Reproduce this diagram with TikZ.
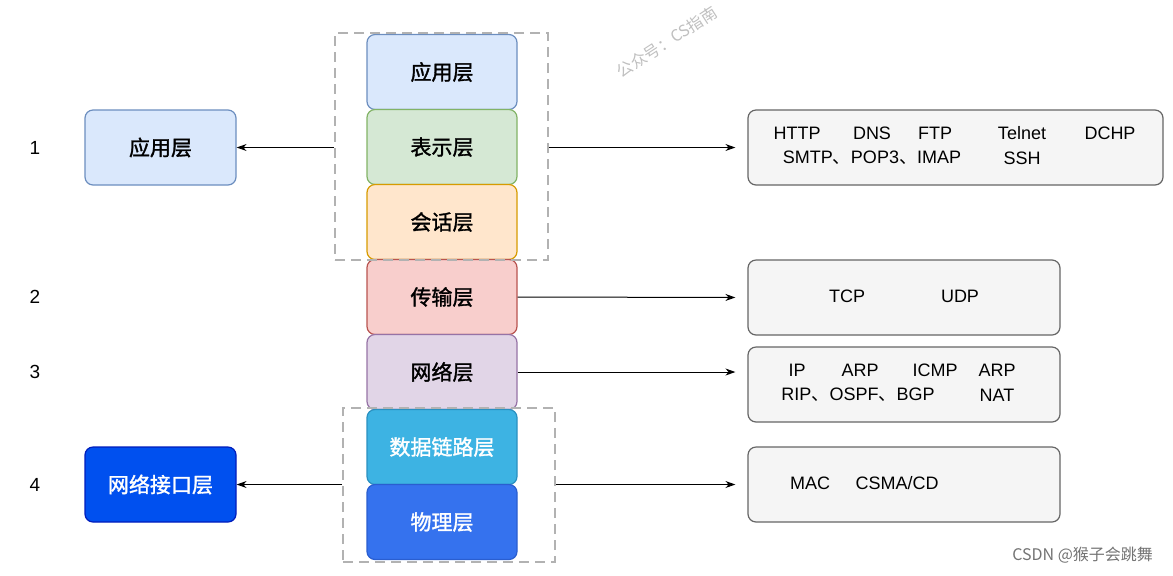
\documentclass[tikz,border=0pt]{standalone}
\usepackage{fontspec}
\setmainfont{Liberation Sans}
\newfontfamily\cjk{Noto Sans CJK SC}
\newfontfamily\cjkb{Noto Sans CJK SC}[FakeBold=1.5]
\usetikzlibrary{arrows.meta}
\definecolor{f1}{HTML}{DAE8FC}\definecolor{s1}{HTML}{6C8EBF}
\definecolor{f2}{HTML}{D5E8D4}\definecolor{s2}{HTML}{82B366}
\definecolor{f3}{HTML}{FFE6CC}\definecolor{s3}{HTML}{D79B00}
\definecolor{f4}{HTML}{F8CECC}\definecolor{s4}{HTML}{B85450}
\definecolor{f5}{HTML}{E1D5E7}\definecolor{s5}{HTML}{9673A6}
\definecolor{f6}{HTML}{3DB3E3}\definecolor{s6}{HTML}{2A90C0}
\definecolor{f7}{HTML}{3572EE}\definecolor{s7}{HTML}{2A5ED0}
\definecolor{f8}{HTML}{0050EF}\definecolor{s8}{HTML}{001DBC}
\begin{document}
\begin{tikzpicture}[x=0.5pt,y=-0.5pt,
  lay/.style={draw,rounded corners=4pt,line width=0.6pt,font=\cjkb\fontsize{10.5}{12}\selectfont},
  gbox/.style={draw=black!60,fill=black!4,rounded corners=4pt,line width=0.6pt},
  t/.style={font=\fontsize{9}{11}\selectfont,inner sep=0},
  num/.style={font=\fontsize{9.5}{11}\selectfont},
  arr/.style={-{Stealth[length=5pt,width=3.5pt]},line width=0.5pt,shorten >=6pt},
  grp/.style={draw=black!30,line width=1pt,dash pattern=on 5pt off 3pt}]
\useasboundingbox (0,0) rectangle (1173,575);
\def\L#1#2#3#4#5#6{\node[lay,fill=#3,draw=#4,text=#5,minimum width=75pt,minimum height=37.5pt] (#1) at (442,#2) {#6};}
\L{a}{72}{f1}{s1}{black}{应用层}
\L{p}{147}{f2}{s2}{black}{表示层}
\L{s}{222}{f3}{s3}{black}{会话层}
\L{tr}{297}{f4}{s4}{black}{传输层}
\L{n}{372}{f5}{s5}{black}{网络层}
\L{d}{447}{f6}{s6}{white}{数据链路层}
\L{ph}{522}{f7}{s7}{white}{物理层}
\node[grp,minimum width=106.5pt,minimum height=113.5pt] (top) at (441.5,146.5) {};
\node[grp,minimum width=106pt,minimum height=77pt] (bot) at (449,485) {};
\node[lay,fill=f1,draw=s1,minimum width=75.5pt,minimum height=37.5pt] (la) at (160.5,147.5) {应用层};
\node[lay,fill=f8,draw=s8,text=white,minimum width=75.5pt,minimum height=37.5pt] (ln) at (160.5,484.5) {网络接口层};
\node[num] (n1) at (35,148) {1};
\node[num] (n2) at (35,297) {2};
\node[num] (n3) at (35,372) {3};
\node[num] (n4) at (35,485) {4};
\node[gbox,minimum width=207.5pt,minimum height=37.5pt] (r1) at (955.5,147.5) {};
\node[gbox,minimum width=156pt,minimum height=37.5pt] (r2) at (904,297.5) {};
\node[gbox,minimum width=156pt,minimum height=37.5pt] (r3) at (904,384.5) {};
\node[gbox,minimum width=156pt,minimum height=37.5pt] (r4) at (904,484.5) {};
\draw[arr,shorten >=0pt] (top.west|-la) -- (la.east);
\draw[arr] (top.east|-la) -- (r1.west);
\draw[arr] (tr.east) -- (r2.west);
\draw[arr] (n.east) -- (r3.west|-n.east);
\draw[arr,shorten >=0pt] (bot.west|-ln) -- (ln.east);
\draw[arr] (bot.east|-ln) -- (r4.west);
\node[t] (h1) at (797,133) {HTTP};
\node[t] (h2) at (872,133) {DNS};
\node[t] (h3) at (935,133) {FTP};
\node[t] (h4) at (1022,133) {Telnet};
\node[t] (h5) at (1110,133) {DCHP};
\node[t] (h6) at (872,158) {SMTP{\cjk 、}POP3{\cjk 、}IMAP};
\node[t] (h7) at (1022,158) {SSH};
\node[t] (c1) at (847,296) {TCP};
\node[t] (c2) at (960,296) {UDP};
\node[t] (i1) at (797,370) {IP};
\node[t] (i2) at (860,370) {ARP};
\node[t] (i3) at (935,370) {ICMP};
\node[t] (i4) at (997,370) {ARP};
\node[t] (i5) at (858,395) {RIP{\cjk 、}OSPF{\cjk 、}BGP};
\node[t] (i6) at (997,395) {NAT};
\node[t] (m1) at (810,483) {MAC};
\node[t] (m2) at (897,483) {CSMA/CD};
\node[rotate=33,text=black!25,font=\cjk\fontsize{8}{10}\selectfont] (wm) at (667,42) {公众号：CS指南};
\node[text=black!55,font=\cjk\fontsize{8}{10}\selectfont,anchor=east] (cs) at (1160,555) {CSDN @猴子会跳舞};
\end{tikzpicture}
\end{document}
